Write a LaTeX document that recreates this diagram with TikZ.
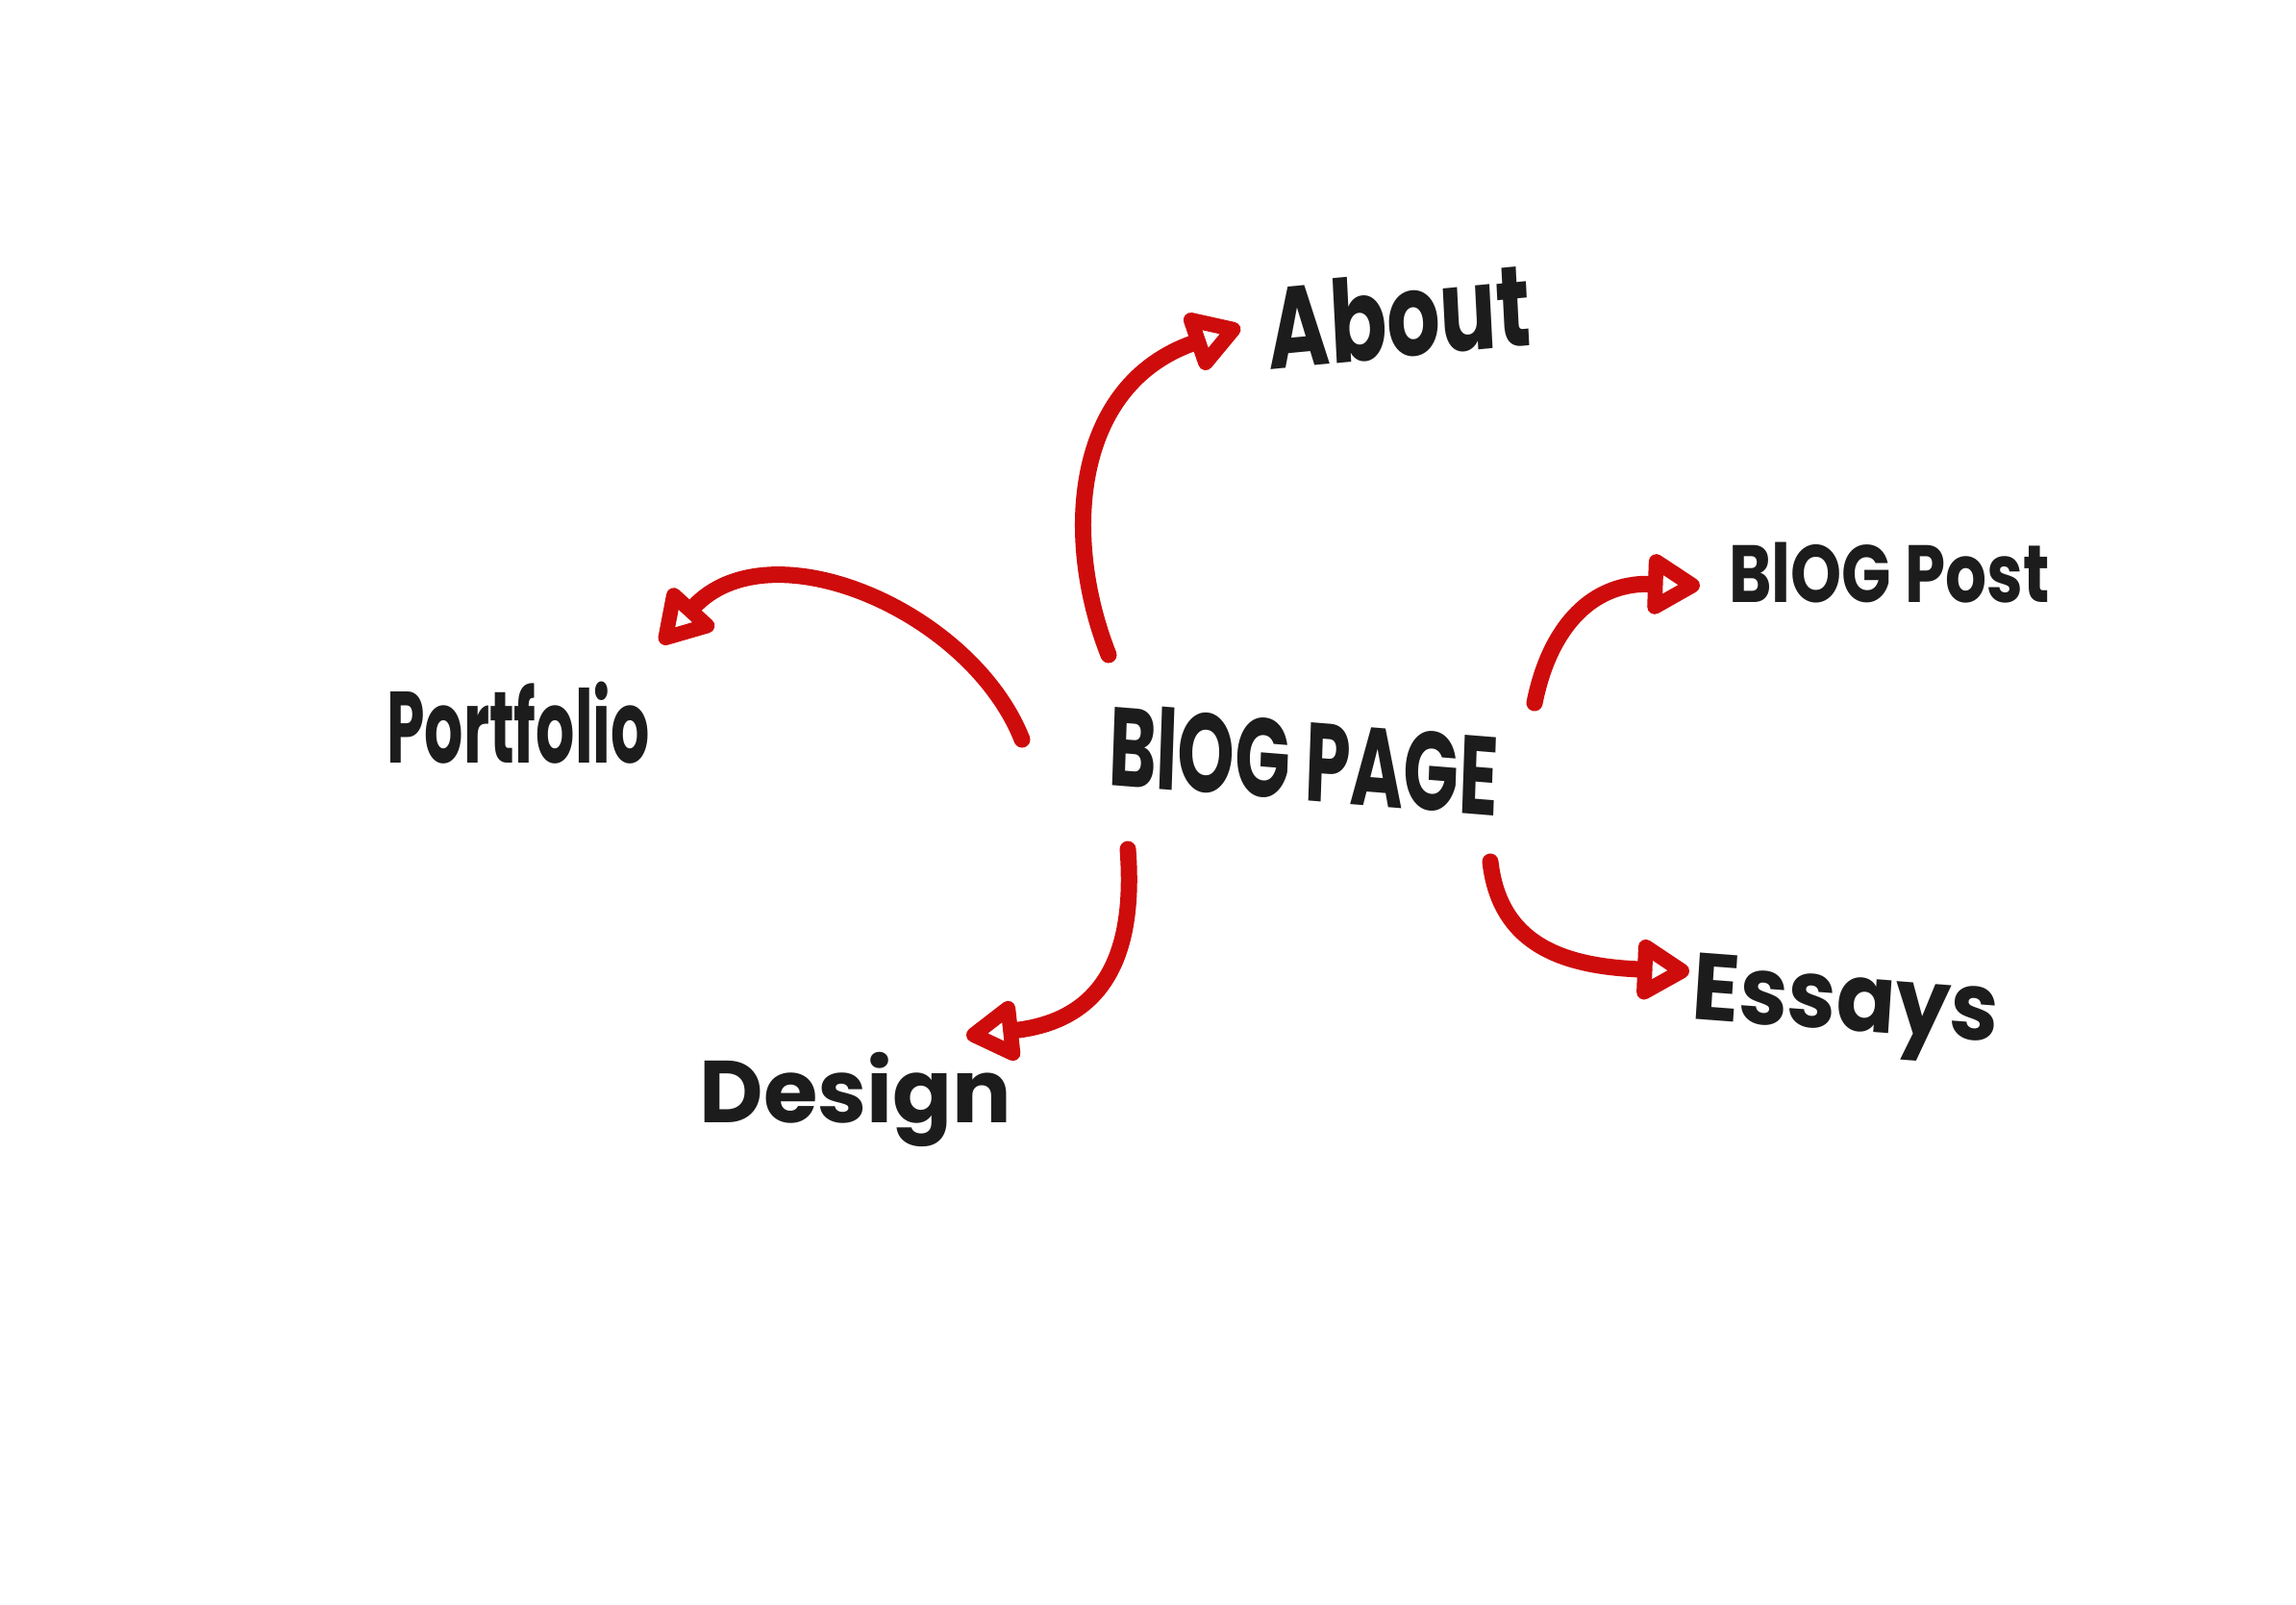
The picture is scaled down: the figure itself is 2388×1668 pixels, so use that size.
\documentclass[tikz,border=0pt]{standalone}
\usepackage{fontspec}
\newfontfamily\hand{Poppins}
\usetikzlibrary{arrows.meta,calc}
\definecolor{marker}{RGB}{206,12,12}
\definecolor{ink}{RGB}{28,28,28}
\begin{document}
\begin{tikzpicture}[x=0.01cm,y=-0.01cm,
  word/.style={text=ink, inner sep=0pt, anchor=center},
  link/.style={draw=marker, line width=1.7mm, line cap=round, line join=round,
    -{Triangle[open, length=6.2mm, width=7mm, round]}}]
% page
\fill[white] (0,0) rectangle (2388,1668);

% labels
\node[word, font=\hand\bfseries\fontsize{33}{33}\selectfont, xscale=0.65, rotate=-3] (blog) at (1356,790) {BlOG PAGE};
\node[word, font=\hand\bfseries\fontsize{34}{34}\selectfont, xscale=0.73, rotate=4] (about) at (1455,328) {About};
\node[word, font=\hand\bfseries\fontsize{24}{24}\selectfont, xscale=0.8] (post) at (1965,596) {BlOG Post};
\node[word, font=\hand\bfseries\fontsize{30}{30}\selectfont, xscale=0.6] (portfolio) at (539,752) {Portfolio};
\node[word, font=\hand\bfseries\fontsize{26}{26}\selectfont, xscale=1.0] (design) at (890,1143) {Design};
\node[word, font=\hand\bfseries\fontsize{28}{28}\selectfont, xscale=0.92, rotate=-4] (essays) at (1919,1050) {Essays};

% arrows out of the blog page
\draw[link] ($(blog)+(-203,-109)$) .. controls (1105,560) and (1115,400) .. ($(about)+(-165,12)$);
\draw[link] ($(blog)+(-293,-21)$) .. controls (1010,635) and (800,545) .. ($(portfolio)+(148,-83)$);
\draw[link] ($(blog)+(-183,93)$) .. controls (1180,975) and (1160,1060) .. ($(design)+(115,-66)$);
\draw[link] ($(blog)+(240,-59)$) .. controls (1610,660) and (1650,605) .. ($(post)+(-197,13)$);
\draw[link] ($(blog)+(194,106)$) .. controls (1560,985) and (1630,1005) .. ($(essays)+(-162,-40)$);
\end{tikzpicture}
\end{document}
